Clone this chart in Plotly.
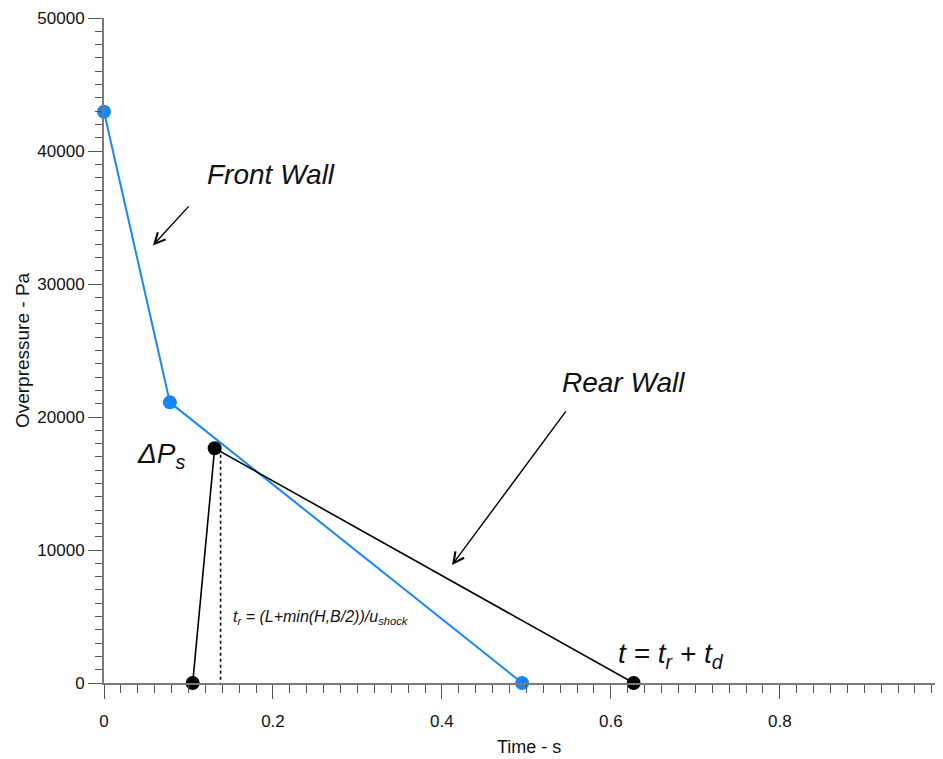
import plotly.graph_objects as go

# Data
front_t = [0.0, 0.078, 0.495]
front_p = [42950, 21100, 0]
rear_t = [0.105, 0.131, 0.627]
rear_p = [0, 17650, 0]
tr_t = [0.138, 0.138]
tr_p = [-1100, 17300]

x_ticks = [0, 0.2, 0.4, 0.6, 0.8]
x_ticklabels = ["0", "0.2", "0.4", "0.6", "0.8"]
y_ticks = [0, 10000, 20000, 30000, 40000, 50000]
y_ticklabels = ["0", "10000", "20000", "30000", "40000", "50000"]

BLUE = "#1487ff"
FONT = "Liberation Sans, Arial, sans-serif"
AX = "#7a7a7a"
TK = "#555555"

fig = go.Figure()
fig.add_trace(go.Scatter(x=tr_t, y=tr_p, mode="lines",
                         line=dict(color="black", width=1.6, dash="dot"),
                         cliponaxis=False, hoverinfo="skip"))
fig.add_trace(go.Scatter(x=front_t, y=front_p, mode="lines+markers",
                         line=dict(color=BLUE, width=2),
                         marker=dict(color=BLUE, size=14),
                         cliponaxis=False))
fig.add_trace(go.Scatter(x=rear_t, y=rear_p, mode="lines+markers",
                         line=dict(color="black", width=1.6),
                         marker=dict(color="black", size=14),
                         cliponaxis=False))

annotations = [
    dict(x=0.058, y=32900, ax=0.1018, ay=35950, xref="x", yref="y", axref="x", ayref="y",
         showarrow=True, arrowhead=5, arrowsize=1.5, arrowwidth=1.4, arrowcolor="black", text=""),
    dict(x=0.412, y=8870, ax=0.548, ay=20530, xref="x", yref="y", axref="x", ayref="y",
         showarrow=True, arrowhead=5, arrowsize=1.5, arrowwidth=1.4, arrowcolor="black", text=""),
    dict(x=0.119, y=38200, xref="x", yref="y", xanchor="left", yanchor="middle", showarrow=False,
         text="<i>Front Wall</i>", font=dict(size=28, family=FONT, color="#111")),
    dict(x=0.54, y=22600, xref="x", yref="y", xanchor="left", yanchor="middle", showarrow=False,
         text="<i>Rear Wall</i>", font=dict(size=28, family=FONT, color="#111")),
    dict(x=0.037, y=17100, xref="x", yref="y", xanchor="left", yanchor="middle", showarrow=False,
         text="<i>ΔP<sub>s</sub></i>", font=dict(size=28, family=FONT, color="#111")),
    dict(x=0.150, y=4900, xref="x", yref="y", xanchor="left", yanchor="middle", showarrow=False,
         text="<i>t<sub>r</sub> = (L+min(H,B/2))/u<sub>shock</sub></i>",
         font=dict(size=16, family=FONT, color="#111")),
    dict(x=0.606, y=2100, xref="x", yref="y", xanchor="left", yanchor="middle", showarrow=False,
         text="<i>t = t<sub>r</sub> + t<sub>d</sub></i>", font=dict(size=28, family=FONT, color="#111")),
    dict(x=0.502, y=-0.1145, xref="paper", yref="paper", showarrow=False,
         text="Time - s", font=dict(size=18, family=FONT, color="#111")),
    dict(x=-0.111, y=0.5, xref="paper", yref="paper", showarrow=False, textangle=-90,
         text="Overpressure - Pa", font=dict(size=19, family=FONT, color="#111")),
]

fig.update_layout(
    width=943, height=751,
    margin=dict(l=96, r=1, t=10, b=76),
    paper_bgcolor="white", plot_bgcolor="white",
    showlegend=False,
    annotations=annotations,
    font=dict(family=FONT, size=17, color="#111"),
)
fig.update_xaxes(range=[0, 1.0015], showgrid=False, zeroline=False,
                 showline=True, linecolor=AX, linewidth=2,
                 tickmode="array", tickvals=x_ticks, ticktext=x_ticklabels,
                 ticks="outside", ticklen=14, tickcolor=TK, tickwidth=1,
                 ticklabelstandoff=8,
                 minor=dict(dtick=0.02, ticks="outside", ticklen=8, tickcolor=TK, tickwidth=1, showgrid=False),
                 tickfont=dict(size=17, family=FONT, color="#111"))
fig.update_yaxes(range=[0, 50000], showgrid=False, zeroline=False,
                 showline=True, linecolor=AX, linewidth=2,
                 tickmode="array", tickvals=y_ticks, ticktext=y_ticklabels,
                 ticks="outside", ticklen=14, tickcolor=TK, tickwidth=1,
                 minor=dict(dtick=1000, ticks="outside", ticklen=7, tickcolor=TK, tickwidth=1, showgrid=False),
                 tickfont=dict(size=17, family=FONT, color="#111"))

fig.write_html("out.html")
